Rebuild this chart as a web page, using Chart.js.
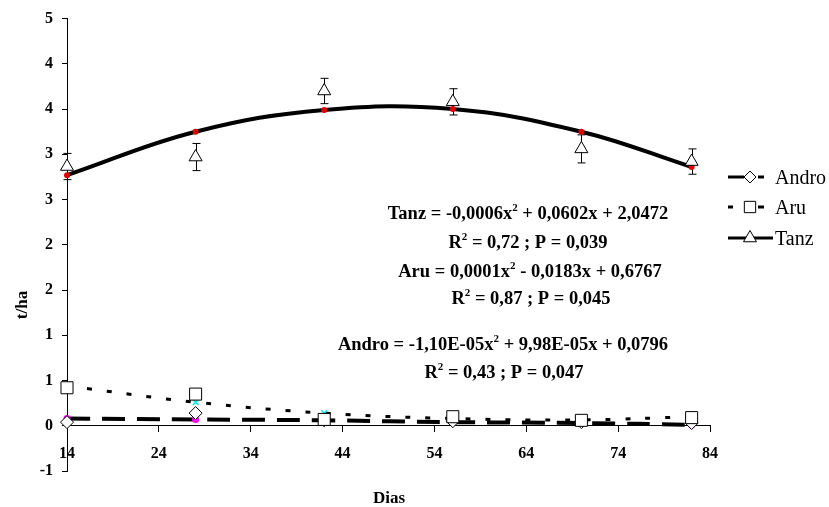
<!DOCTYPE html>
<html>
<head>
<meta charset="utf-8">
<script src="https://cdn.jsdelivr.net/npm/chart.js@4.4.1/dist/chart.umd.min.js"></script>
<style>
    body { margin: 0; background: #fff; }
    #wrap { width: 829px; height: 507px; position: relative; }
</style>
</head>
<body>
<div id="wrap"><canvas id="myChart"></canvas></div>
<script>
// days of sampling
const dias = [14, 28, 42, 56, 70, 82];

// observed values (t/ha)
const androVals = [0.04, 0.14, 0.06, 0.05, 0.04, 0.03];
const aruVals = [0.42, 0.35, 0.07, 0.10, 0.06, 0.09];
const tanzVals = [2.865, 2.97, 3.70, 3.58, 3.06, 2.92];
const tanzErr = [0.145, 0.15, 0.14, 0.145, 0.155, 0.14];

// fitted values (trend points)
const androFit = [0.08, 0.07, 0.06, 0.04, 0.03, 0.01];
const aruFit = [0.44, 0.26, 0.14, 0.08, 0.065, 0.10];
const tanzFit = [2.77, 3.25, 3.49, 3.50, 3.25, 2.86];

// axis ticks
const xTicks = { min: 14, max: 84, step: 10 };
const yTicks = { min: -0.5, max: 4.5, step: 0.5 };

const equations = [
    { parts: [['Tanz = -0,0006x'], ['2', true], [' + 0,0602x + 2,0472']], x: 528, y: 213 },
    { parts: [['R'], ['2', true], [' = 0,72 ; P = 0,039']], x: 528, y: 242 },
    { parts: [['Aru = 0,0001x'], ['2', true], [' - 0,0183x + 0,6767']], x: 530, y: 271 },
    { parts: [['R'], ['2', true], [' = 0,87 ; P = 0,045']], x: 531, y: 298 },
    { parts: [['Andro = -1,10E-05x'], ['2', true], [' + 9,98E-05x + 0,0796']], x: 503, y: 344 },
    { parts: [['R'], ['2', true], [' = 0,43 ; P = 0,047']], x: 504, y: 372 }
];

const serif = "'Liberation Serif', 'Times New Roman', serif";
Chart.defaults.font.family = serif;
Chart.defaults.color = '#000';

const pts = vals => vals.map((v, i) => ({ x: dias[i], y: v }));

// error bars for Tanz
const errorBars = {
    id: 'errorBars',
    beforeDatasetsDraw(chart) {
        const ctx = chart.ctx, xs = chart.scales.x, ys = chart.scales.y;
        ctx.save();
        ctx.strokeStyle = '#000';
        ctx.lineWidth = 1;
        tanzVals.forEach((v, i) => {
            const px = Math.round(xs.getPixelForValue(dias[i])) + 0.5;
            const top = ys.getPixelForValue(v + tanzErr[i]);
            const bot = ys.getPixelForValue(v - tanzErr[i]);
            ctx.beginPath();
            ctx.moveTo(px, top); ctx.lineTo(px, bot);
            ctx.moveTo(px - 4, top); ctx.lineTo(px + 4, top);
            ctx.moveTo(px - 4, bot); ctx.lineTo(px + 4, bot);
            ctx.stroke();
        });
        ctx.restore();
    }
};

function drawRich(ctx, parts, cx, cy, size) {
    const normal = `bold ${size}px ${serif}`;
    const small = `bold ${Math.round(size * 0.62)}px ${serif}`;
    let total = 0;
    parts.forEach(p => {
        ctx.font = p[1] ? small : normal;
        total += ctx.measureText(p[0]).width;
    });
    let x = cx - total / 2;
    const base = cy + size * 0.33;
    ctx.textAlign = 'left';
    ctx.textBaseline = 'alphabetic';
    parts.forEach(p => {
        ctx.font = p[1] ? small : normal;
        ctx.fillText(p[0], x, p[1] ? base - size * 0.42 : base);
        x += ctx.measureText(p[0]).width;
    });
}

const extras = {
    id: 'extras',
    afterDraw(chart) {
        const ctx = chart.ctx;
        ctx.save();
        ctx.fillStyle = '#000';
        equations.forEach(e => drawRich(ctx, e.parts, e.x, e.y, 18.5));

        // axis titles
        ctx.font = `bold 17px ${serif}`;
        ctx.textAlign = 'center';
        ctx.textBaseline = 'middle';
        ctx.fillText('Dias', 389, 499);
        ctx.save();
        ctx.translate(23, 305);
        ctx.rotate(-Math.PI / 2);
        ctx.fillText('t/ha', 0, 0);
        ctx.restore();

        // legend
        const items = [
            { label: 'Andro', style: 'rectRot', r: 6, segs: [[728, 744], [758, 764]], y: 177 },
            { label: 'Aru', style: 'rect', r: 8, segs: [[728, 733], [758, 764]], y: 207 },
            { label: 'Tanz', style: 'triangle', r: 7.5, segs: [[728, 773]], y: 238 }
        ];
        items.forEach(it => {
            ctx.strokeStyle = '#000';
            ctx.lineWidth = 3;
            ctx.beginPath();
            it.segs.forEach(s => { ctx.moveTo(s[0], it.y); ctx.lineTo(s[1], it.y); });
            ctx.stroke();
            ctx.fillStyle = '#fff';
            ctx.lineWidth = 1;
            Chart.helpers.drawPoint(ctx, { pointStyle: it.style, radius: it.r, rotation: 0, borderWidth: 1 }, 750, it.y);
            ctx.fillStyle = '#000';
            ctx.font = `20px ${serif}`;
            ctx.textAlign = 'left';
            ctx.textBaseline = 'middle';
            ctx.fillText(it.label, 775, it.y + 2);
        });
        ctx.restore();
    }
};

const config = {
    type: 'scatter',
    data: {
        datasets: [
            {
                label: 'Tanz',
                data: pts(tanzVals),
                pointStyle: 'triangle',
                radius: 7.5,
                backgroundColor: '#fff',
                borderColor: '#000',
                borderWidth: 1,
                order: 0
            },
            {
                label: 'Aru',
                data: pts(aruVals),
                pointStyle: 'rect',
                radius: 8.5,
                backgroundColor: '#fff',
                borderColor: '#000',
                borderWidth: 1,
                order: 1
            },
            {
                label: 'Andro',
                data: pts(androVals),
                pointStyle: 'rectRot',
                radius: 6.5,
                backgroundColor: '#fff',
                borderColor: '#000',
                borderWidth: 1,
                order: 2
            },
            {
                label: 'Tanz ajuste',
                data: pts(tanzFit),
                pointStyle: 'circle',
                radius: 3,
                backgroundColor: '#e00000',
                borderColor: '#e00000',
                borderWidth: 0,
                order: 3
            },
            {
                label: 'Aru ajuste',
                data: pts(aruFit),
                pointStyle: 'crossRot',
                radius: 4,
                backgroundColor: '#00e8ee',
                borderColor: '#00e8ee',
                borderWidth: 1.5,
                order: 4
            },
            {
                label: 'Andro ajuste',
                data: pts(androFit),
                pointStyle: 'circle',
                radius: 3.5,
                backgroundColor: '#ff00ff',
                borderColor: '#ff00ff',
                borderWidth: 0,
                order: 5
            },
            {
                label: 'Tanz tendencia',
                data: pts(tanzFit),
                showLine: true,
                tension: 0.4,
                borderColor: '#000',
                borderWidth: 4,
                pointRadius: 0,
                order: 6
            },
            {
                label: 'Aru tendencia',
                data: pts(aruFit),
                showLine: true,
                tension: 0.4,
                borderColor: '#000',
                borderWidth: 3,
                borderDash: [5, 15],
                pointRadius: 0,
                order: 7
            },
            {
                label: 'Andro tendencia',
                data: pts(androFit),
                showLine: true,
                tension: 0.4,
                borderColor: '#000',
                borderWidth: 4,
                borderDash: [23, 12],
                pointRadius: 0,
                order: 8
            }
        ]
    },
    options: {
        responsive: true,
        maintainAspectRatio: false,
        animation: false,
        datasets: {
            scatter: { clip: false }
        },
        layout: {
            padding: { left: 0, top: 17, right: 119, bottom: 36 }
        },
        scales: {
            x: {
                type: 'linear',
                position: { y: 0 },
                min: xTicks.min,
                max: xTicks.max,
                ticks: {
                    stepSize: xTicks.step,
                    padding: 12,
                    font: { size: 16, weight: 'bold' },
                    color: '#000'
                },
                grid: {
                    drawOnChartArea: false,
                    tickLength: 6,
                    color: '#000'
                },
                border: { display: true, color: '#000', width: 1 }
            },
            y: {
                min: yTicks.min,
                max: yTicks.max,
                afterFit: scale => { scale.width = 67; },
                ticks: {
                    stepSize: yTicks.step,
                    padding: 9,
                    font: { size: 16, weight: 'bold' },
                    color: '#000',
                    callback: v => String((v < 0 ? -1 : 1) * Math.round(Math.abs(v)))
                },
                grid: {
                    drawOnChartArea: false,
                    tickLength: 5,
                    color: '#000'
                },
                border: { display: true, color: '#000', width: 1 }
            }
        },
        plugins: {
            legend: { display: false },
            tooltip: { enabled: false }
        }
    },
    plugins: [errorBars, extras]
};

const ctx = document.getElementById('myChart').getContext('2d');
new Chart(ctx, config);
</script>
</body>
</html>
